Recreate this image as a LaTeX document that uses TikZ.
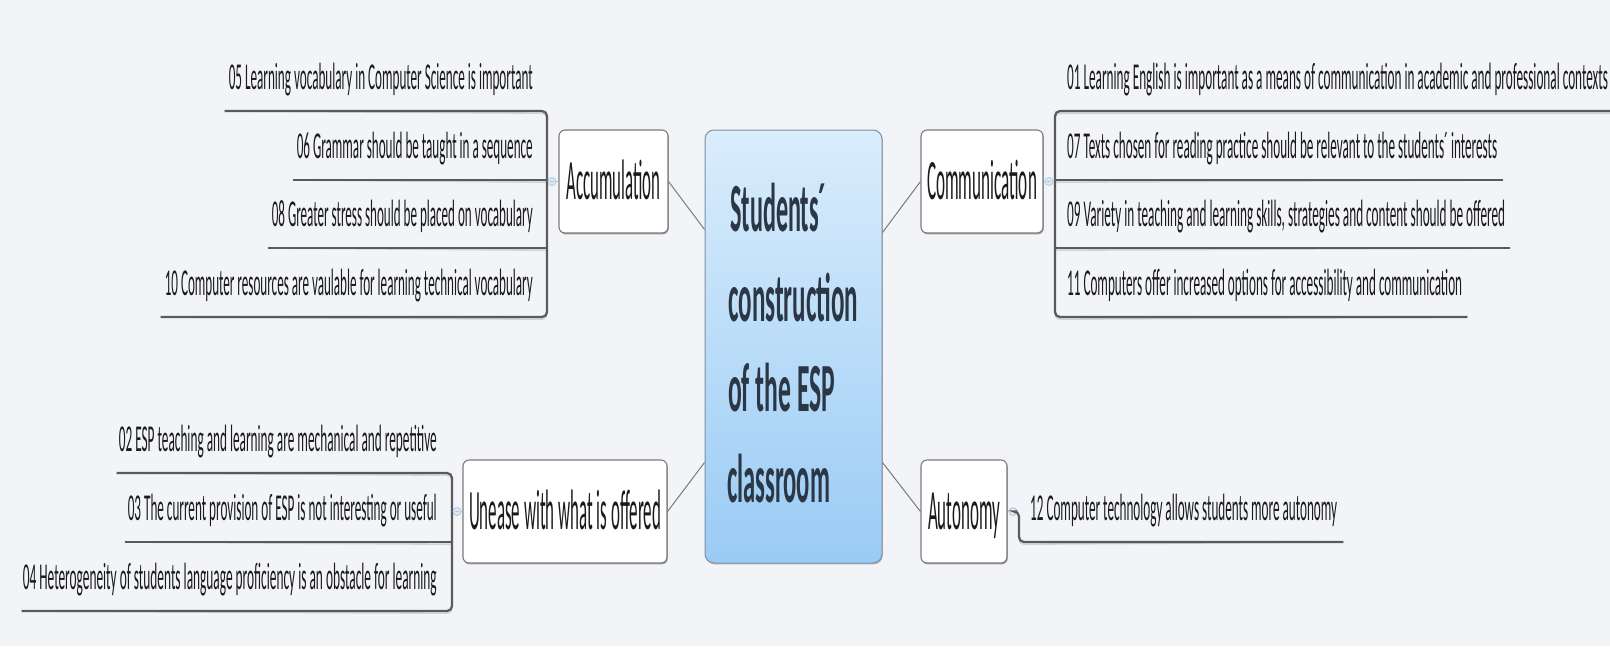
\documentclass[tikz,border=0pt]{standalone}
\usepackage{fontspec}
\setmainfont{Carlito}
\usetikzlibrary{calc,shadows}
\definecolor{bg}{HTML}{F2F4F7}
\definecolor{leaftext}{HTML}{1A1A1A}
\definecolor{ulc}{HTML}{5A5A5A}
\definecolor{ulsh}{HTML}{D0D3D8}
\definecolor{boxc}{HTML}{7C7C7C}
\definecolor{linkc}{HTML}{7A7A7A}
\definecolor{knobd}{HTML}{A9C4DD}
\definecolor{knobf}{HTML}{DCE8F4}
\definecolor{ctop}{HTML}{DAEDFC}
\definecolor{cbot}{HTML}{9ACBF5}
\definecolor{cborder}{HTML}{7D90A4}
\definecolor{ctext}{HTML}{2B3744}
\newcommand{\fw}[2]{\resizebox{#1pt}{\height}{#2}}
\begin{document}
\begin{tikzpicture}[x=1pt,y=-1pt,
  leaf/.style={inner sep=0pt, font=\fontsize{38}{38}\selectfont, text=leaftext},
  ul/.style={draw=ulc, line width=2.2pt, rounded corners=5pt},
  ulshadow/.style={draw=ulsh, line width=1.6pt, rounded corners=5pt},
  topic/.style={draw=boxc, fill=white, line width=1.1pt, rounded corners=6pt, inner sep=0pt,
    text depth=0pt, text height=36pt, font=\fontsize{57}{57}\selectfont, text=leaftext,
    drop shadow={shadow xshift=0.8pt, shadow yshift=-1.4pt, opacity=0.35, fill=black}},
  link/.style={draw=linkc, line width=1pt},
  knob/.style={circle, inner sep=0pt, minimum size=8pt, draw=knobd, fill=knobf, line width=0.7pt},
  stub/.style={draw=knobd, line width=0.8pt},
  ctr/.style={inner sep=0pt, font=\bfseries\fontsize{69}{69}\selectfont, text=ctext},
]
\fill[bg] (0,0) rectangle (1610,646);
\useasboundingbox (0,0) rectangle (1610,646);

% central topic
\node[draw=cborder, line width=1pt, rounded corners=9pt, top color=ctop, bottom color=cbot,
  minimum width=177pt, minimum height=433pt, inner sep=0pt,
  drop shadow={shadow xshift=0.8pt, shadow yshift=-1.4pt, opacity=0.25, fill=black}] (center) at (793.5,346.5) {};
\node[ctr, anchor=base west] (ct1) at (730,231) {\fw{96}{Students´}};
\node[ctr, anchor=base west] (ct2) at (728,321) {\fw{130}{construction}};
\node[ctr, anchor=base west] (ct3) at (728,411) {\fw{107}{of the ESP}};
\node[ctr, anchor=base west] (ct4) at (727,502) {\fw{103}{classroom}};

% main topics
\node[topic, minimum width=109pt, minimum height=103pt] (acc) at (613.5,181.5) {\fw{94}{Accumulation}};
\node[topic, minimum width=122pt, minimum height=103pt] (com) at (982,181.5) {\fw{110}{Communication}};
\node[topic, minimum width=204pt, minimum height=103pt] (une) at (565,511.5) {\fw{192}{Unease with what is offered}};
\node[topic, minimum width=86pt, minimum height=103pt] (aut) at (964,511.5) {\fw{72}{Autonomy}};

% links to center
\draw[link] (acc.east) -- ($(center.north west)+(0,100)$);
\draw[link] (com.west) -- ($(center.north east)+(0,103)$);
\draw[link] (une.east) -- ($(center.north west)+(0,333)$);
\draw[link] (aut.west) -- ($(center.north east)+(0,333)$);

% Accumulation leaves
\node[leaf, anchor=base east] (l05) at (533,89) {\fw{304}{05 Learning vocabulary in Computer Science is important}};
\node[leaf, anchor=base east] (l06) at (533,158) {\fw{236}{06 Grammar should be taught in a sequence}};
\node[leaf, anchor=base east] (l08) at (533,226) {\fw{261}{08 Greater stress should be placed on vocabulary}};
\node[leaf, anchor=base east] (l10) at (533,295) {\fw{368}{10 Computer resources are vaulable for learning technical vocabulary}};
\begin{scope}[yshift=-2.2pt]
\draw[ulshadow] ($(l05.base west)+(-4,22)$) -- (547,111) -- (547,317) -- ($(l10.base west)+(-4,22)$);
\draw[ulshadow] ($(l06.base west)+(-4,22)$) -- (547,180);
\draw[ulshadow] ($(l08.base west)+(-4,22)$) -- (547,248);
\end{scope}
\draw[ul] ($(l05.base west)+(-4,22)$) -- (547,111) -- (547,317) -- ($(l10.base west)+(-4,22)$);
\draw[ul] ($(l06.base west)+(-4,22)$) -- (547,180);
\draw[ul] ($(l08.base west)+(-4,22)$) -- (547,248);
\node[knob] (kacc) at (552,181.5) {};
\draw[stub] (kacc) -- (acc.west);
\draw[draw=knobd, line width=0.7pt] ($(kacc.center)+(-2.4,0)$) -- ($(kacc.center)+(2.4,0)$);

% Communication leaves
\node[leaf, anchor=base west] (l01) at (1067,89) {\fw{541}{01 Learning English is important as a means of communication in academic and professional contexts}};
\node[leaf, anchor=base west] (l07) at (1067,158) {\fw{430}{07 Texts chosen for reading practice should be relevant to the students´ interests}};
\node[leaf, anchor=base west] (l09) at (1067,226) {\fw{438}{09 Variety in teaching and learning skills, strategies and content should be offered}};
\node[leaf, anchor=base west] (l11) at (1067,295) {\fw{395}{11 Computers offer increased options for accessibility and communication}};
\begin{scope}[yshift=-2.2pt]
\draw[ulshadow] (1612,111) -- (1055,111) -- (1055,317) -- ($(l11.base east)+(5,22)$);
\draw[ulshadow] (1055,180) -- ($(l07.base east)+(6,22)$);
\draw[ulshadow] (1055,248) -- ($(l09.base east)+(5,22)$);
\end{scope}
\draw[ul] (1612,111) -- (1055,111) -- (1055,317) -- ($(l11.base east)+(5,22)$);
\draw[ul] (1055,180) -- ($(l07.base east)+(6,22)$);
\draw[ul] (1055,248) -- ($(l09.base east)+(5,22)$);
\node[knob] (kcom) at (1049,181.5) {};
\draw[stub] (com.east) -- (kcom);
\draw[draw=knobd, line width=0.7pt] ($(kcom.center)+(-2.4,0)$) -- ($(kcom.center)+(2.4,0)$);

% Unease leaves
\node[leaf, anchor=base east] (l02) at (437,451) {\fw{318}{02 ESP teaching and learning are mechanical and repetitive}};
\node[leaf, anchor=base east] (l03) at (437,520) {\fw{309}{03 The current provision of ESP is not interesting or useful}};
\node[leaf, anchor=base east] (l04) at (437,589) {\fw{414}{04 Heterogeneity of students language proficiency is an obstacle for learning}};
\begin{scope}[yshift=-2.2pt]
\draw[ulshadow] ($(l02.base west)+(-2,22)$) -- (452,473) -- (452,611) -- ($(l04.base west)+(-1,22)$);
\draw[ulshadow] ($(l03.base west)+(-3,22)$) -- (452,542);
\end{scope}
\draw[ul] ($(l02.base west)+(-2,22)$) -- (452,473) -- (452,611) -- ($(l04.base west)+(-1,22)$);
\draw[ul] ($(l03.base west)+(-3,22)$) -- (452,542);
\node[knob] (kune) at (457,511.5) {};
\draw[stub] (kune) -- (une.west);
\draw[draw=knobd, line width=0.7pt] ($(kune.center)+(-2.4,0)$) -- ($(kune.center)+(2.4,0)$);

% Autonomy leaf
\node[leaf, anchor=base west] (l12) at (1030,520) {\fw{307}{12 Computer technology allows students more autonomy}};
\node[knob] (kaut) at (1013,511.5) {};
\draw[stub] (aut.east) -- (kaut);
\draw[draw=knobd, line width=0.7pt] ($(kaut.center)+(-2.4,0)$) -- ($(kaut.center)+(2.4,0)$);
\begin{scope}[yshift=-2.2pt]
\draw[ulshadow] (1019,530) -- (1019,542) -- ($(l12.base east)+(6,22)$);
\end{scope}
\draw[ul] (kaut.east) -- (1019,511.5) -- (1019,542) -- ($(l12.base east)+(6,22)$);
\end{tikzpicture}
\end{document}
